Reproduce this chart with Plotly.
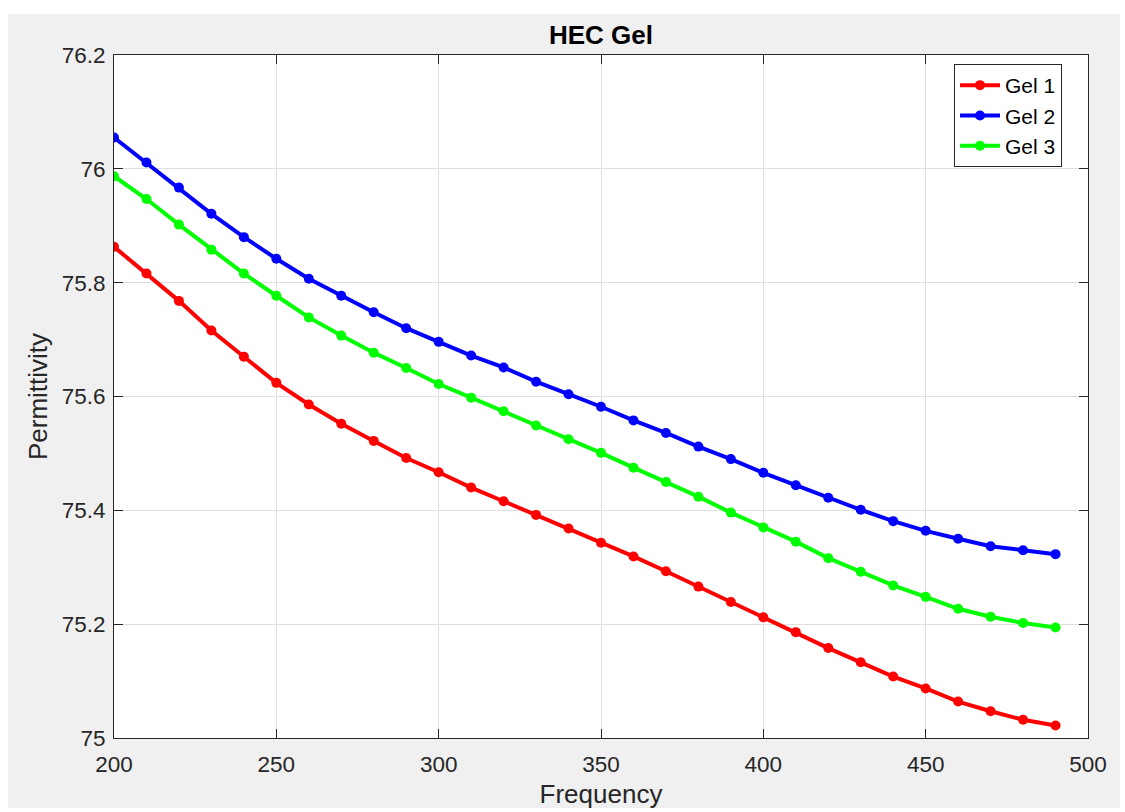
import plotly.graph_objects as go

frequency = [200, 210, 220, 230, 240, 250, 260, 270, 280, 290,
             300, 310, 320, 330, 340, 350, 360, 370, 380, 390,
             400, 410, 420, 430, 440, 450, 460, 470, 480, 490]

gel1 = [75.863, 75.816, 75.768, 75.716, 75.670, 75.624, 75.586, 75.552, 75.522, 75.492,
        75.467, 75.440, 75.416, 75.392, 75.368, 75.343, 75.319, 75.293, 75.266, 75.239,
        75.212, 75.186, 75.158, 75.133, 75.108, 75.087, 75.064, 75.047, 75.032, 75.022]

gel2 = [76.055, 76.011, 75.967, 75.921, 75.880, 75.842, 75.807, 75.777, 75.748, 75.720,
        75.696, 75.672, 75.651, 75.626, 75.604, 75.582, 75.558, 75.536, 75.512, 75.490,
        75.466, 75.444, 75.422, 75.401, 75.381, 75.364, 75.350, 75.337, 75.330, 75.323]

gel3 = [75.987, 75.947, 75.902, 75.858, 75.816, 75.777, 75.739, 75.707, 75.677, 75.650,
        75.622, 75.598, 75.574, 75.549, 75.525, 75.501, 75.475, 75.450, 75.424, 75.396,
        75.370, 75.345, 75.316, 75.292, 75.268, 75.248, 75.227, 75.213, 75.202, 75.194]

series_names = ["Gel 1", "Gel 2", "Gel 3"]
series_colors = ["#ff0000", "#0000ff", "#00ff00"]

x_ticks = [200, 250, 300, 350, 400, 450, 500]
y_ticks = [75, 75.2, 75.4, 75.6, 75.8, 76, 76.2]
y_tick_text = ["75", "75.2", "75.4", "75.6", "75.8", "76", "76.2"]

FONT = "Arial, 'Liberation Sans', Helvetica, sans-serif"
DARK = "#262626"

fig = go.Figure()
for name, ys, col in zip(series_names, [gel1, gel2, gel3], series_colors):
    fig.add_trace(go.Scatter(
        x=frequency, y=ys, name=name, mode="lines+markers",
        line=dict(color=col, width=4),
        marker=dict(color=col, size=10),
    ))

W, H = 1125, 812
L, R, T, B = 114, 37, 55, 74
pw, ph = W - L - R, H - T - B

def px_x(p):
    return (p - L) / pw

def px_y(p):
    return (H - B - p) / ph

fig.update_layout(
    width=W, height=H,
    margin=dict(l=L, r=R, t=T, b=B, pad=0),
    paper_bgcolor="white",
    plot_bgcolor="white",
    font=dict(family=FONT, color=DARK, size=22),
    title=dict(text="<b>HEC Gel</b>", x=px_x(601), xref="paper", xanchor="center",
               y=1 - 35 / H, yref="container", yanchor="middle",
               font=dict(size=26, color="black", family=FONT)),
    showlegend=True,
    legend=dict(
        x=px_x(1062), y=px_y(64), xanchor="right", yanchor="top",
        bgcolor="white", bordercolor=DARK, borderwidth=1,
        font=dict(size=21, color="black", family=FONT),
        tracegroupgap=0, itemwidth=40,
    ),
    shapes=[
        dict(type="rect", xref="paper", yref="paper",
             x0=px_x(8), x1=px_x(1120), y0=px_y(808), y1=px_y(14),
             fillcolor="#f0f0f0", line=dict(width=0), layer="below"),
        dict(type="rect", xref="paper", yref="paper",
             x0=0, x1=1, y0=0, y1=1,
             fillcolor="white", line=dict(width=0), layer="below"),
    ],
)

fig.update_xaxes(
    range=[200, 500], tickvals=x_ticks, ticktext=[str(v) for v in x_ticks],
    showgrid=True, gridcolor="#dfdfdf", gridwidth=1,
    showline=True, linecolor=DARK, linewidth=1, mirror="ticks",
    ticks="inside", ticklen=9, tickcolor=DARK, tickwidth=1,
    tickfont=dict(size=22.5, color=DARK, family=FONT),
    ticklabelstandoff=6,
    zeroline=False,
    title=dict(text="Frequency", font=dict(size=26, color=DARK, family=FONT), standoff=8),
    automargin=False,
)
fig.update_yaxes(
    range=[75, 76.2], tickvals=y_ticks, ticktext=y_tick_text,
    showgrid=True, gridcolor="#dfdfdf", gridwidth=1,
    showline=True, linecolor=DARK, linewidth=1, mirror="ticks",
    ticks="inside", ticklen=9, tickcolor=DARK, tickwidth=1,
    tickfont=dict(size=22.5, color=DARK, family=FONT),
    ticklabelstandoff=3,
    zeroline=False,
    title=dict(text="Permittivity", font=dict(size=26, color=DARK, family=FONT), standoff=6),
    automargin=False,
)

fig.write_html("out.html")
